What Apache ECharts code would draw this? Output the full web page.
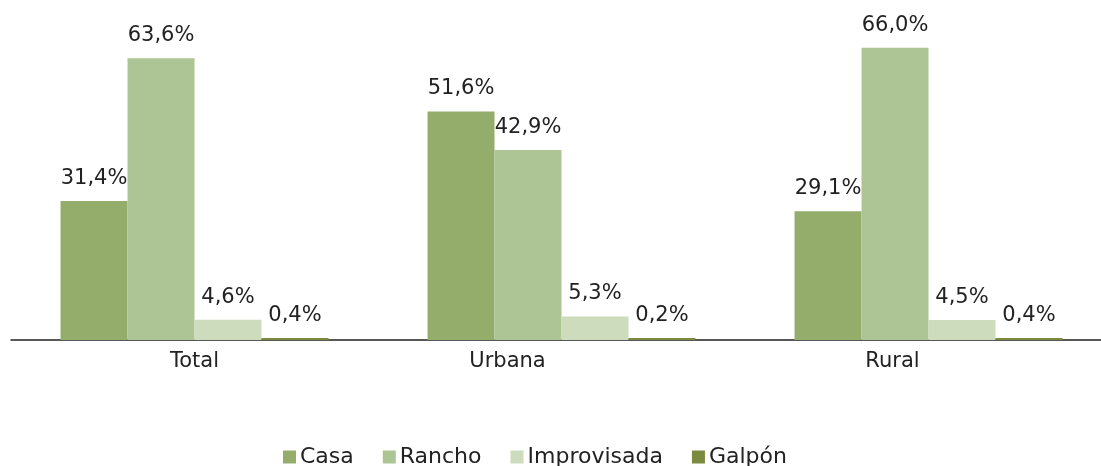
<!DOCTYPE html>
<html>
<head>
<meta charset="utf-8">
<script src="https://cdn.jsdelivr.net/npm/echarts@6/dist/echarts.min.js"></script>
<style>
  html, body { margin: 0; padding: 0; background: #fff; }
  #chart { width: 1101px; height: 466px; }
</style>
</head>
<body>
<div id="chart"></div>
<script>
// datos
const categories = ['Total', 'Urbana', 'Rural'];
const seriesNames = ['Casa', 'Rancho', 'Improvisada', 'Galpón'];
const casa = [31.4, 51.6, 29.1];
const rancho = [63.6, 42.9, 66.0];
const improvisada = [4.6, 5.3, 4.5];
const galpon = [0.4, 0.2, 0.4];

const colors = ['#95ad6b', '#adc494', '#cddcbc', '#7a8b40'];
const values = [casa, rancho, improvisada, galpon];
// desplazamiento de etiquetas del eje (como en el original)
const labelPad = [[0, 0, 0, 0], [0, 108, 0, 0], [0, 72, 0, 0]];

const chart = echarts.init(document.getElementById('chart'));

const font = 'DejaVu Sans';

const option = {
    animation: false,
    color: colors,
    textStyle: { fontFamily: font },
    // el grupo de la derecha se sale un poco del borde, como en el original
    grid: { left: 11, width: 1101, top: 30, bottom: 126, outerBoundsMode: 'none' },
    legend: {
        bottom: -7,
        left: 278,
        itemWidth: 13,
        itemHeight: 13,
        itemGap: 29,
        icon: 'rect',
        textStyle: { fontSize: 22, color: '#222', fontFamily: font, padding: [0, 0, 0, -1] }
    },
    xAxis: {
        type: 'category',
        data: categories.map((c, i) => ({ value: c, textStyle: { padding: labelPad[i] } })),
        axisLine: { lineStyle: { color: '#222', width: 1.5 } },
        axisTick: { show: false },
        axisLabel: { fontSize: 21, color: '#222', margin: 11, fontFamily: font }
    },
    yAxis: {
        type: 'value',
        min: 0,
        max: 70,
        show: false,
        splitLine: { show: false }
    },
    series: seriesNames.map((name, i) => ({
        name: name,
        type: 'bar',
        data: values[i],
        barGap: 0,
        barCategoryGap: '27%',
        barMinHeight: 2,
        itemStyle: { color: colors[i] },
        label: {
            show: true,
            position: 'top',
            distance: 12,
            fontSize: 21,
            color: '#222',
            fontFamily: font,
            formatter: p => p.value.toFixed(1).replace('.', ',') + '%'
        }
    }))
};

chart.setOption(option);
</script>
</body>
</html>
